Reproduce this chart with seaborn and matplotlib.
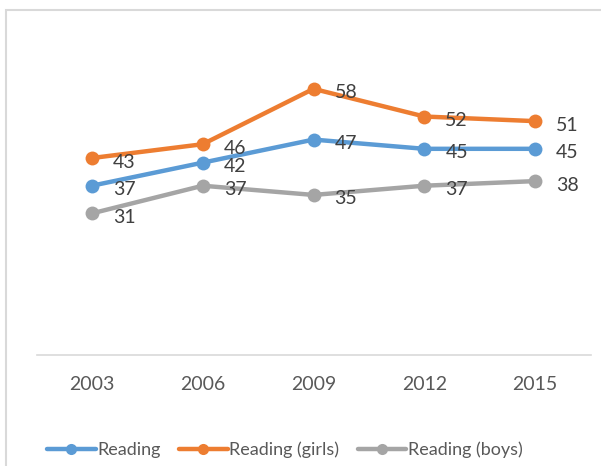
import matplotlib
matplotlib.use("Agg")
import matplotlib.pyplot as plt
import seaborn as sns
import pandas as pd
from matplotlib.patches import Rectangle
from matplotlib.lines import Line2D

years = ["2003", "2006", "2009", "2012", "2015"]
series_names = ["Reading", "Reading (girls)", "Reading (boys)"]
reading = [37, 42, 47, 45, 45]
girls = [43, 46, 58, 52, 51]
boys = [31, 37, 35, 37, 38]
colors = ["#5B9BD5", "#ED7D31", "#A5A5A5"]

sns.set_theme(style="white")
plt.rcParams["font.family"] = ["Lato", "DejaVu Sans"]

rows = []
for name, vals in zip(series_names, [reading, girls, boys]):
    for y, v in zip(years, vals):
        rows.append({"Year": y, "Value": v, "Series": name})
df = pd.DataFrame(rows)

fig = plt.figure(figsize=(6.01, 4.66), dpi=100)
fig.patch.set_facecolor("white")
fig.patches.append(Rectangle((6 / 601, -0.1), 1.2, (466 - 10) / 466 + 0.1,
                             transform=fig.transFigure, fill=False,
                             edgecolor="#D9D9D9", linewidth=1.5))

ax = fig.add_axes([36.5 / 601, (466 - 355) / 466, 554 / 601, 321.5 / 466])
sns.lineplot(data=df, x="Year", y="Value", hue="Series", palette=colors,
             marker="o", markersize=10, markeredgewidth=0, linewidth=3.2,
             sort=False, ax=ax, legend=False)

for name, vals, c in zip(series_names, [reading, girls, boys], colors):
    for i, v in enumerate(vals):
        ax.annotate(str(v), (i, v), xytext=(21, -4), textcoords="offset pixels",
                    ha="left", va="center", fontsize=14, color="#404040")

ax.set_xlim(-0.5, 4.5)
ax.set_ylim(0.3, 70)
ax.set_yticks([])
ax.set_xlabel("")
ax.set_ylabel("")
for s in ["top", "right", "left"]:
    ax.spines[s].set_visible(False)
ax.spines["bottom"].set_color("#D9D9D9")
ax.spines["bottom"].set_linewidth(1.2)
ax.tick_params(axis="x", length=0, pad=15, labelsize=14, labelcolor="#595959")
ax.set_facecolor("none")

handles = [Line2D([], [], color=c, linewidth=3.2, marker="o", markersize=8,
                  markeredgewidth=0) for c in colors]
fig.legend(handles, series_names, loc="center", bbox_to_anchor=(0.474, 0.034),
           ncol=3, frameon=False, fontsize=13, handlelength=2.7,
           handletextpad=0.1, columnspacing=1.0, labelcolor="#595959")

fig.savefig("out.png", dpi=100, facecolor="white")
